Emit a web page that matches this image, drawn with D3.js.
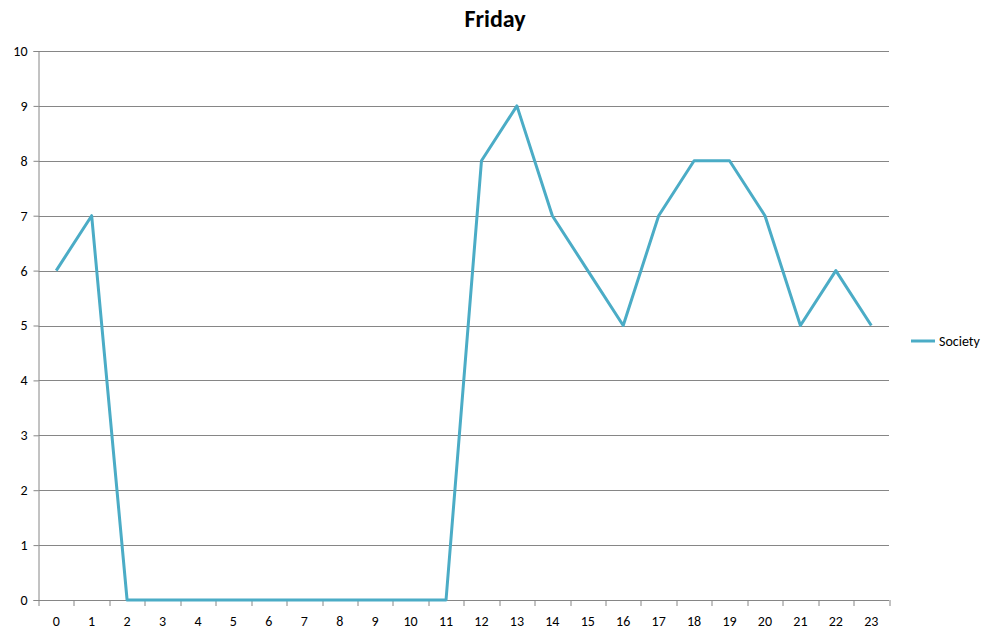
<!DOCTYPE html>
<html>
<head>
<meta charset="utf-8">
<script src="https://cdn.jsdelivr.net/npm/d3@7"></script>
<style>
  html, body { margin: 0; padding: 0; background: #fff; overflow: hidden; }
  svg { display: block; }
  text { font-family: Calibri, Carlito, Lato, "Open Sans", Arial, sans-serif; }
</style>
</head>
<body>
<div id="chart"></div>
<script>
var hours = ["0", "1", "2", "3", "4", "5", "6", "7", "8", "9", "10", "11",
  "12", "13", "14", "15", "16", "17", "18", "19", "20", "21", "22", "23"];
var society = [6, 7, 0, 0, 0, 0, 0, 0, 0, 0, 0, 0, 8, 9, 7, 6, 5, 7, 8, 8, 7, 5, 6, 5];
var yTicks = [0, 1, 2, 3, 4, 5, 6, 7, 8, 9, 10];
var seriesName = "Society";
var title = "Friday";

var width = 990;
var height = 636;

var margin = { top: 51, right: 101, bottom: 36, left: 38.5 };
var innerWidth = width - margin.left - margin.right;
var innerHeight = height - margin.top - margin.bottom;

var svg = d3.select("#chart").append("svg").attr("width", width).attr("height", height);
var g = svg.append("g").attr("transform", "translate(" + margin.left + "," + margin.top + ")");

var x = d3.scaleBand().domain(hours).range([0, innerWidth]);
var y = d3.scaleLinear().domain([0, 10]).range([innerHeight, 0]);

// gridlines
g.selectAll(".grid")
  .data(yTicks.slice(1))
  .enter()
  .append("line")
  .attr("class", "grid")
  .attr("x1", 0)
  .attr("x2", innerWidth)
  .attr("y1", function (d) { return Math.round(y(d)) + 0.5; })
  .attr("y2", function (d) { return Math.round(y(d)) + 0.5; })
  .attr("stroke", "#868686")
  .attr("stroke-width", 1);

// y axis
var yAxis = d3.axisLeft(y).tickValues(yTicks).tickSize(5).tickPadding(6);
var yg = g.append("g").call(yAxis);
yg.select(".domain").attr("stroke", "#868686");
yg.selectAll(".tick line").attr("stroke", "#868686");
yg.selectAll(".tick text").style("font-size", "14px").attr("fill", "#000");

// x axis, ticks between categories like excel
var xg = g.append("g").attr("transform", "translate(0," + innerHeight + ")");
xg.append("line")
  .attr("x1", 0).attr("x2", innerWidth)
  .attr("y1", 0.5).attr("y2", 0.5)
  .attr("stroke", "#868686");
xg.selectAll(".xtick")
  .data(d3.range(hours.length + 1))
  .enter()
  .append("line")
  .attr("class", "xtick")
  .attr("x1", function (i) { return Math.round(i * x.step()) + 0.5; })
  .attr("x2", function (i) { return Math.round(i * x.step()) + 0.5; })
  .attr("y1", 0)
  .attr("y2", 6)
  .attr("stroke", "#868686");
xg.selectAll(".xlabel")
  .data(hours)
  .enter()
  .append("text")
  .attr("class", "xlabel")
  .attr("x", function (d) { return x(d) + x.bandwidth() / 2; })
  .attr("y", 26)
  .attr("text-anchor", "middle")
  .style("font-size", "14px")
  .text(function (d) { return d; });

// line
var line = d3.line()
  .x(function (d, i) { return x(hours[i]) + x.bandwidth() / 2; })
  .y(function (d) { return y(d); });

g.append("path")
  .datum(society)
  .attr("d", line)
  .attr("fill", "none")
  .attr("stroke", "#4bacc6")
  .attr("stroke-width", 3)
  .attr("stroke-linejoin", "round");

// title
svg.append("text")
  .attr("x", 495)
  .attr("y", 27)
  .attr("text-anchor", "middle")
  .style("font-size", "24px")
  .style("font-weight", "bold")
  .text(title);

// legend
var legend = svg.append("g").attr("transform", "translate(911,341)");
legend.append("line")
  .attr("x1", 0).attr("x2", 24)
  .attr("y1", 0).attr("y2", 0)
  .attr("stroke", "#4bacc6")
  .attr("stroke-width", 3);
legend.append("text")
  .attr("x", 28)
  .attr("y", 5)
  .style("font-size", "14px")
  .text(seriesName);
</script>
</body>
</html>
